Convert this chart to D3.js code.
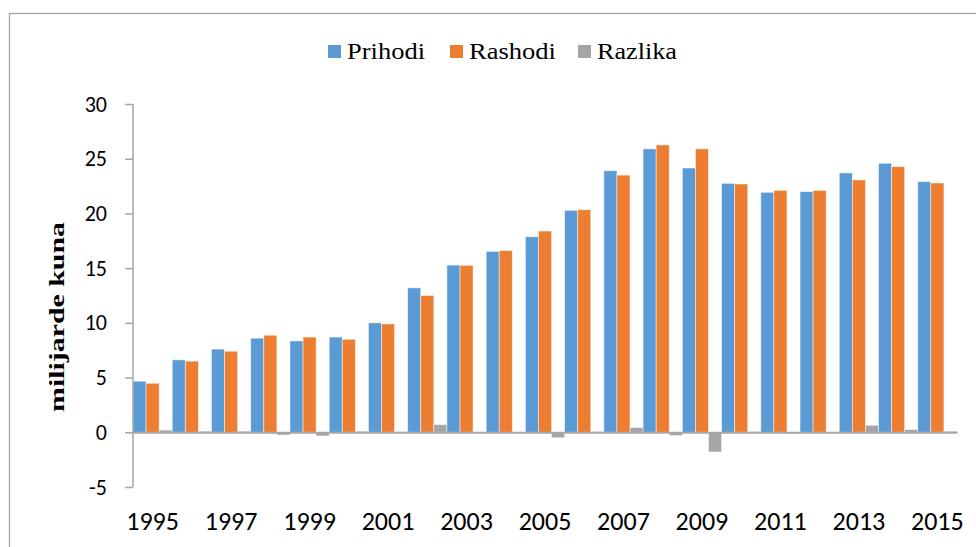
<!DOCTYPE html>
<html>
<head>
<meta charset="utf-8">
<script src="https://cdn.jsdelivr.net/npm/d3@7/dist/d3.min.js"></script>
<style>
  body { margin: 0; background: #fff; }
</style>
</head>
<body>
<div id="chart-area"></div>
<script>
var years = ["1995","1996","1997","1998","1999","2000","2001","2002","2003","2004","2005",
             "2006","2007","2008","2009","2010","2011","2012","2013","2014","2015"];
var prihodi = [4.67, 6.62, 7.6, 8.6, 8.35, 8.7, 10.0, 13.2, 15.28, 16.53, 17.87,
               20.28, 23.9, 25.9, 24.15, 22.75, 21.93, 21.99, 23.7, 24.58, 22.9];
var rashodi = [4.48, 6.5, 7.41, 8.87, 8.7, 8.5, 9.9, 12.5, 15.25, 16.6, 18.39,
               20.34, 23.5, 26.26, 25.9, 22.69, 22.11, 22.1, 23.06, 24.27, 22.78];
var razlika = [0.2, 0.1, 0.1, -0.25, -0.34, 0.1, 0.05, 0.7, 0.03, -0.05, -0.5,
               0.05, 0.43, -0.3, -1.8, 0.05, -0.12, -0.05, 0.64, 0.25, 0.1];
var seriesNames = ["Prihodi", "Rashodi", "Razlika"];
var colors = ["#5b9bd5", "#ed7d31", "#a5a5a5"];
var yTicks = [-5, 0, 5, 10, 15, 20, 25, 30];

var W = 976, H = 547;
var margin = { left: 133, right: 19, top: 104, bottom: 60 };
var width = W - margin.left - margin.right,
    height = H - margin.top - margin.bottom;

var svg = d3.select("#chart-area")
  .append("svg")
    .attr("width", W)
    .attr("height", H);

// chart border (only top and left visible)
svg.append("rect")
  .attr("x", 9.5).attr("y", 13.5)
  .attr("width", W + 20).attr("height", H + 20)
  .attr("fill", "none")
  .attr("stroke", "#a6a6a6")
  .attr("stroke-width", 1.3);

var g = svg.append("g")
  .attr("transform", "translate(" + margin.left + "," + margin.top + ")");

// Scales
var x = d3.scaleBand().domain(years).range([0, width]).padding(0);
var x1 = d3.scaleBand().domain(seriesNames).range([0, x.bandwidth()]).padding(0);
var y = d3.scaleLinear().domain([-5, 30]).range([383, 0]);

var data = years.map(function(yr, i) {
  return { year: yr, values: [prihodi[i], rashodi[i], razlika[i]] };
});

// Bars
var groups = g.selectAll(".year")
  .data(data)
  .enter().append("g")
    .attr("class", "year")
    .attr("transform", function(d) { return "translate(" + x(d.year) + ",0)"; });

groups.selectAll("rect")
  .data(function(d) { return d.values.map(function(v, j) { return { s: seriesNames[j], v: v, j: j }; }); })
  .enter().append("rect")
    .attr("x", function(d) { return x1(d.s); })
    .attr("width", x1.bandwidth())
    .attr("y", function(d) { return y(Math.max(0, d.v)); })
    .attr("height", function(d) { return Math.abs(y(d.v) - y(0)); })
    .attr("fill", function(d) { return colors[d.j]; })
    .attr("stroke", "#fff")
    .attr("stroke-opacity", 0.6)
    .attr("stroke-width", 0.8);

// Y axis
var yAxis = g.append("g")
  .call(d3.axisLeft(y).tickValues(yTicks).tickSize(8).tickPadding(18).tickFormat(function(d) { return String(d); }));
yAxis.select(".domain").attr("stroke", "#a6a6a6").attr("stroke-width", 1.5).attr("d", "M0," + y(30) + "V" + y(-5));
yAxis.selectAll(".tick line").attr("stroke", "#a6a6a6").attr("stroke-width", 1.5);
yAxis.selectAll(".tick text")
  .attr("font-family", "Carlito, Calibri, sans-serif")
  .attr("font-size", "22px")
  .attr("fill", "#000");

// X axis at zero
var xAxis = g.append("g")
  .attr("transform", "translate(0," + y(0) + ")")
  .call(d3.axisBottom(x).tickSize(0).tickFormat(""));
xAxis.select(".domain").attr("stroke", "#a6a6a6").attr("stroke-width", 2);

// X labels (every other year) below the plot
g.append("g")
  .selectAll("text")
  .data(years.filter(function(d, i) { return i % 2 === 0; }))
  .enter().append("text")
    .attr("x", function(d) { return x(d) + x.bandwidth() / 2; })
    .attr("y", 426)
    .attr("text-anchor", "middle")
    .attr("font-family", "Carlito, Calibri, sans-serif")
    .attr("font-size", "26px")
    .attr("fill", "#000")
    .text(function(d) { return d; });

// Y label
svg.append("text")
  .attr("transform", "translate(64,317) rotate(-90)")
  .attr("text-anchor", "middle")
  .attr("font-family", "'Liberation Serif', 'Times New Roman', serif")
  .attr("font-weight", "bold")
  .attr("font-size", "22px")
  .attr("textLength", 190)
  .attr("lengthAdjust", "spacingAndGlyphs")
  .text("milijarde kuna");

// Legend
var legendX = [328, 450, 578];
var legendW = [78, 87, 80];
var legend = svg.append("g");
seriesNames.forEach(function(name, i) {
  legend.append("rect")
    .attr("x", legendX[i]).attr("y", 45)
    .attr("width", 13).attr("height", 13)
    .attr("fill", colors[i]);
  legend.append("text")
    .attr("x", legendX[i] + 19).attr("y", 58.5)
    .attr("font-family", "'Liberation Serif', 'Times New Roman', serif")
    .attr("font-size", "23.5px")
    .attr("textLength", legendW[i])
    .attr("lengthAdjust", "spacingAndGlyphs")
    .attr("fill", "#000")
    .text(name);
});
</script>
</body>
</html>
